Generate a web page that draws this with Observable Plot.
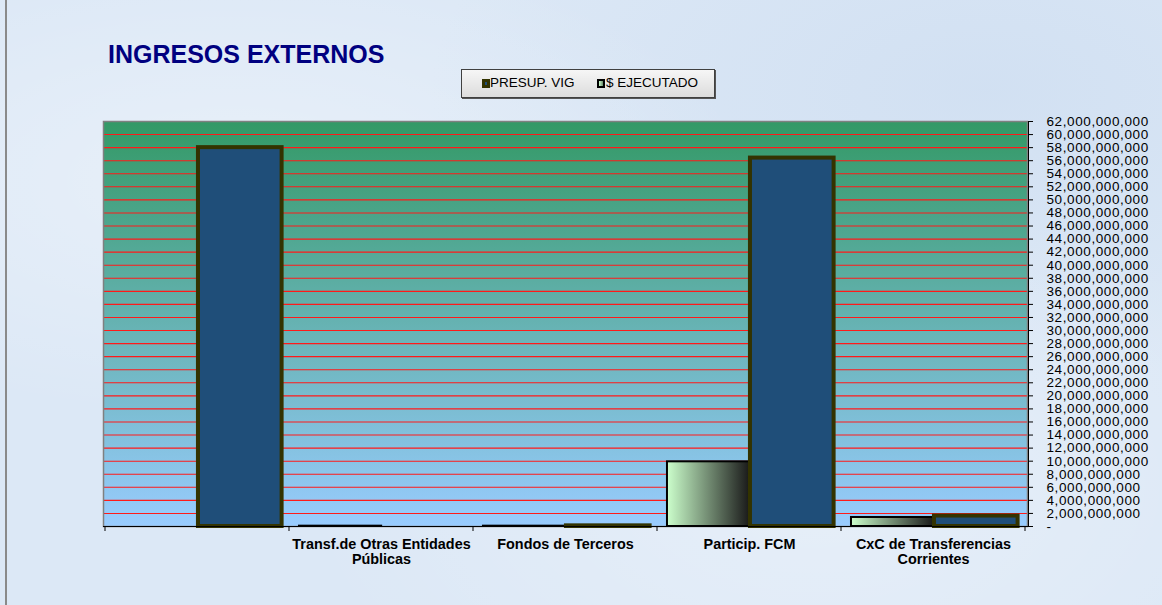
<!DOCTYPE html>
<html>
<head>
<meta charset="utf-8">
<script src="https://cdn.jsdelivr.net/npm/d3@7"></script>
<script src="https://cdn.jsdelivr.net/npm/@observablehq/plot@0.6"></script>
<style>
  html, body { margin: 0; padding: 0; }
  body {
    width: 1162px; height: 605px; overflow: hidden; position: relative;
    font-family: "Liberation Sans", Arial, sans-serif;
    background-color: #dce8f6;
    background-image:
      radial-gradient(ellipse at 20% 30%, rgba(255,255,255,0.35), rgba(255,255,255,0) 40%),
      radial-gradient(ellipse at 70% 80%, rgba(255,255,255,0.3), rgba(255,255,255,0) 45%),
      radial-gradient(ellipse at 85% 15%, rgba(190,210,235,0.35), rgba(190,210,235,0) 40%);
  }
  #frameLeft { position: absolute; left: 5px; top: 0; bottom: 0; width: 2px; background: #8a8a8a; }
  #title {
    position: absolute; left: 108px; top: 42px; line-height: 25px;
    font-size: 25px; font-weight: bold; color: #000080; white-space: nowrap;
  }
  #legend {
    position: absolute; left: 461px; top: 69px; width: 254px; height: 29px; box-sizing: border-box;
    border: 1px solid #404040; background: linear-gradient(to bottom, #f6f6f6, #dcdcdc);
    box-shadow: 1px 1px 0 #555;
    font-size: 13.5px; color: #000;
  }
  #legend .sw { position: absolute; top: 9px; width: 8px; height: 9px; box-sizing: border-box; }
  #legend .lab { position: absolute; top: 5px; line-height: 16px; white-space: nowrap; }
  #chart { position: absolute; left: 0; top: 110px; }
  #chart g[aria-label="y-axis tick label"] text { letter-spacing: 0.6px; }
</style>
</head>
<body>
<div id="frameLeft"></div>
<div id="title">INGRESOS EXTERNOS</div>
<div id="legend">
  <div class="sw" style="left:20px;background:#1f4e79;border:3px solid #333300;"></div>
  <div class="lab" style="left:28px;">PRESUP. VIG</div>
  <div class="sw" style="left:135px;border:2px solid #000;background:linear-gradient(to right,#ccffcc,#6a8a6a);"></div>
  <div class="lab" style="left:144px;">$ EJECUTADO</div>
</div>
<div id="chart"></div>
<script>
// ---- data ----
const categories = [" ", "Transf.de Otras Entidades Públicas", "Fondos de Terceros", "Particip. FCM", "CxC de Transferencias Corrientes"];
const categoryLabels = ["", "Transf.de Otras Entidades\nPúblicas", "Fondos de Terceros", "Particip. FCM", "CxC de Transferencias\nCorrientes"];
const presupVig = [58.0e9, null, 0.1e9, 56.4e9, 1.6e9];
const ejecutado = [null, 0.05e9, 0.05e9, 9.9e9, 1.38e9];
const yTicks = [0, 2e9, 4e9, 6e9, 8e9, 10e9, 12e9, 14e9, 16e9, 18e9, 20e9, 22e9, 24e9, 26e9, 28e9, 30e9,
  32e9, 34e9, 36e9, 38e9, 40e9, 42e9, 44e9, 46e9, 48e9, 50e9, 52e9, 54e9, 56e9, 58e9, 60e9, 62e9];
const gridTicks = yTicks.filter(v => v > 0 && v < 62e9);

const presupRows = categories.map((c, i) => ({cat: c, value: presupVig[i]})).filter(d => d.value != null);
const ejecRows = categories.map((c, i) => ({cat: c, value: ejecutado[i]})).filter(d => d.value != null);

const W = 1162, H = 495, ML = 103, MR = 135, MT = 11, MB = 79;
const bw = (W - ML - MR) / categories.length;

function defs() {
  const g = d3.create("svg:g");
  const d = g.append("defs");
  const bg = d.append("linearGradient").attr("id", "bgGrad").attr("x1", 0).attr("y1", 0).attr("x2", 0).attr("y2", 1);
  bg.append("stop").attr("offset", "0%").attr("stop-color", "#339966");
  bg.append("stop").attr("offset", "100%").attr("stop-color", "#99ccff");
  const eg = d.append("linearGradient").attr("id", "ejGrad").attr("x1", 0).attr("y1", 0).attr("x2", 1).attr("y2", 0);
  eg.append("stop").attr("offset", "0%").attr("stop-color", "#ccffcc");
  eg.append("stop").attr("offset", "100%").attr("stop-color", "#1a1a1a");
  return g.node();
}

function axisLines(index, scales, values, dims) {
  const g = d3.create("svg:g").attr("stroke", "#000").attr("stroke-width", 1);
  const x = scales.x;
  const band = typeof x.bandwidth === "function" ? x.bandwidth() : bw;
  const y0 = dims.height - dims.marginBottom;
  const xr = dims.width - dims.marginRight;
  const xs = categories.map(c => x(c)).concat([x(categories[categories.length - 1]) + band]);
  xs.forEach(px => g.append("line").attr("x1", px).attr("x2", px).attr("y1", y0).attr("y2", y0 + 5));
  g.append("line").attr("x1", dims.marginLeft).attr("x2", xr + 2).attr("y1", y0 + 0.5).attr("y2", y0 + 0.5);
  g.append("line").attr("x1", xr + 1.5).attr("x2", xr + 1.5).attr("y1", dims.marginTop).attr("y2", y0 + 1);
  return g.node();
}

const chart = Plot.plot({
  width: W, height: H,
  marginLeft: ML, marginRight: MR, marginTop: MT, marginBottom: MB,
  style: {background: "transparent", fontFamily: "'Liberation Sans', Arial, sans-serif", color: "#000"},
  x: {domain: categories, padding: 0, axis: null},
  y: {domain: [0, 62e9]},
  marks: [
    defs,
    Plot.frame({fill: "url(#bgGrad)", stroke: null}),
    Plot.ruleY(gridTicks, {stroke: "#ff1a1a", strokeWidth: 1.1}),
    Plot.frame({stroke: "#808080", strokeWidth: 1.5}),
    Plot.barY(ejecRows, {x: "cat", y: "value", fill: "url(#ejGrad)", stroke: "#000", strokeWidth: 2,
      insetLeft: bw * 0.054, insetRight: bw * 0.497}),
    Plot.barY(presupRows, {x: "cat", y: "value", fill: "#1f4e79", stroke: "#333300", strokeWidth: 4,
      insetLeft: bw * 0.503, insetRight: bw * 0.040}),
    axisLines,
    Plot.axisY({anchor: "right", ticks: yTicks, tickSize: 5, tickPadding: 14, fontSize: 13.5, label: null,
      tickFormat: d => d === 0 ? "-" : d3.format(",")(d), stroke: "#000"}),
    Plot.text(categories, {x: d => d, text: (d, i) => categoryLabels[i], frameAnchor: "bottom",
      lineAnchor: "top", dy: 12, lineHeight: 1.05, fontSize: 14.4, fontWeight: "bold", fill: "#000"})
  ]
});
document.getElementById("chart").appendChild(chart);
</script>
</body>
</html>
